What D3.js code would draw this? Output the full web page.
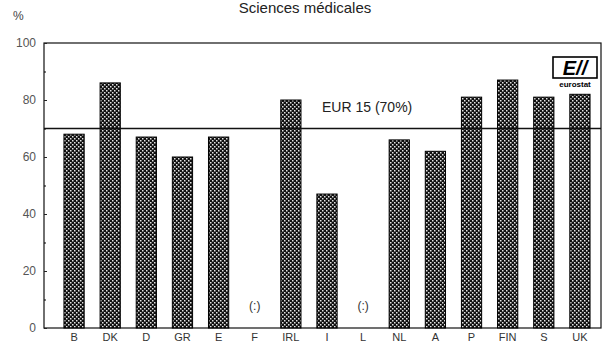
<!DOCTYPE html>
<html><head><meta charset="utf-8">
<script src="https://cdn.jsdelivr.net/npm/d3@7"></script>
<style>body{margin:0;background:#fff}svg{display:block;font-family:"Liberation Sans",Arial,sans-serif}</style>
</head><body><svg id="c" width="609" height="351"></svg>
<script>
const categories = ["B","DK","D","GR","E","F","IRL","I","L","NL","A","P","FIN","S","UK"];
const values = [68,86,67,60,67,null,80,47,null,66,62,81,87,81,82];
const yTicks = [0,20,40,60,80,100];
const minorTicks = [10,30,50,70,90];
const eurValue = 70;
const eurLabel = "EUR 15 (70%)";
const title = "Sciences médicales";

const svg = d3.select("#c");
const pL=44, pR=601, pT=43, pB=328;
const y = d3.scaleLinear().domain([0,100]).range([pB, pT]);
const x = d3.scaleBand().domain(categories).range([56,598]).paddingInner(0.44).paddingOuter(0.22);

const defs = svg.append("defs");
const pat = defs.append("pattern").attr("id","chk").attr("patternUnits","userSpaceOnUse").attr("width",4).attr("height",4);
pat.append("rect").attr("width",4).attr("height",4).attr("fill","#111");
pat.append("rect").attr("x",0).attr("y",0).attr("width",1.5).attr("height",1.5).attr("fill","#e4e4e4");
pat.append("rect").attr("x",2).attr("y",2).attr("width",1.5).attr("height",1.5).attr("fill","#e4e4e4");

// title
svg.append("text").attr("x",305).attr("y",13).attr("text-anchor","middle").attr("font-size",15).attr("fill","#222").text(title);
svg.append("text").attr("x",13).attr("y",20).attr("font-size",12).attr("fill","#444").text("%");

// frame
svg.append("rect").attr("x",pL).attr("y",pT).attr("width",pR-pL).attr("height",pB-pT).attr("fill","none").attr("stroke","#111").attr("stroke-width",1.2);

// y axis
const ya = svg.append("g").attr("transform",`translate(${pL},0)`)
  .call(d3.axisRight(y).tickValues(yTicks).tickSize(3).tickFormat(""));
ya.select(".domain").remove();
ya.selectAll("line").attr("stroke","#222");
const ym = svg.append("g").attr("transform",`translate(${pL},0)`)
  .call(d3.axisRight(y).tickValues(minorTicks).tickSize(2).tickFormat(""));
ym.select(".domain").remove();
svg.selectAll(".ylab").data(yTicks).join("text").attr("class","ylab")
  .attr("x",36).attr("y",d=>y(d)+4).attr("text-anchor","end").attr("font-size",12).attr("fill","#555").text(d=>d);

// bars
svg.selectAll(".bar").data(categories.map((c,i)=>({c,v:values[i]})).filter(d=>d.v!==null))
  .join("rect").attr("class","bar")
  .attr("x",d=>x(d.c)).attr("width",x.bandwidth())
  .attr("y",d=>y(d.v)).attr("height",d=>y(0)-y(d.v))
  .attr("fill","url(#chk)").attr("stroke","#000").attr("stroke-width",1);

// missing
svg.selectAll(".na").data(categories.filter((c,i)=>values[i]===null)).join("text").attr("class","na")
  .attr("x",d=>x(d)+x.bandwidth()/2).attr("y",310).attr("text-anchor","middle").attr("font-size",12).attr("fill","#333").text("(:)");

// EUR line
svg.append("line").attr("x1",pL).attr("x2",pR).attr("y1",y(eurValue)).attr("y2",y(eurValue)).attr("stroke","#111").attr("stroke-width",1.4);
svg.append("text").attr("x",322).attr("y",112).attr("font-size",14).attr("fill","#222").text(eurLabel);

// x labels
const xa = svg.append("g").attr("transform",`translate(0,${pB})`).call(d3.axisBottom(x).tickSize(0).tickPadding(5));
xa.select(".domain").remove();
xa.selectAll("text").attr("font-size",11).attr("fill","#333").attr("font-family","Liberation Sans, Arial, sans-serif");

// eurostat logo
const lg = svg.append("g").attr("transform","translate(553,57)");
lg.append("rect").attr("x",0).attr("y",0).attr("width",44).attr("height",21).attr("fill","#fff").attr("stroke","#000").attr("stroke-width",1.6);
lg.append("text").attr("x",22).attr("y",18).attr("text-anchor","middle").attr("font-size",20).attr("font-weight","bold").attr("font-style","italic").attr("fill","#000").text("E//");
lg.append("text").attr("x",22).attr("y",30).attr("text-anchor","middle").attr("font-size",8).attr("font-weight","bold").attr("fill","#000").text("eurostat");
</script></body></html>
